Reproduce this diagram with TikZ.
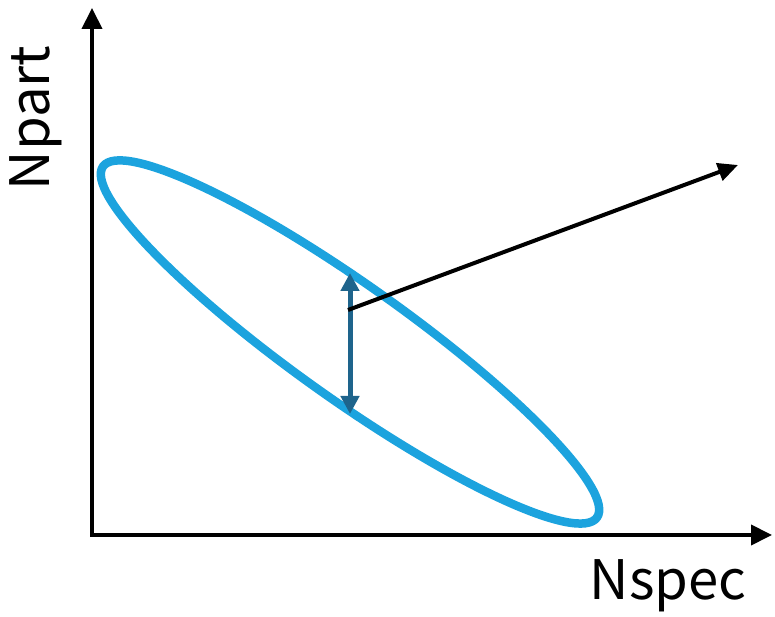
\documentclass[tikz,border=0pt]{standalone}
\usepackage{fontspec}
\setmainfont{Noto Sans CJK JP}
\usepackage{xcolor}
\usepackage{tikz}
\usetikzlibrary{arrows.meta, positioning}
\definecolor{ringblue}{RGB}{28, 163, 222}
\definecolor{spreadblue}{RGB}{30, 100, 140}
\tikzset{
    axis/.style={line width=0.08cm, -{Triangle[length=0.42cm, width=0.4cm]}},
    spread/.style={spreadblue, line width=0.1cm, {Triangle[length=0.36cm, width=0.36cm]}-{Triangle[length=0.36cm, width=0.36cm]}},
    pointer/.style={line width=0.08cm, -{Triangle[length=0.4cm, width=0.36cm]}},
    axislabel/.style={font=\fontsize{31}{36}\selectfont, inner sep=0pt}
}
\begin{document}
\begin{tikzpicture}[x=0.02cm, y=-0.02cm]
    \useasboundingbox (0,0) rectangle (775,617);

    % Axes
    \coordinate (origin) at (92,535);
    \coordinate (ytip) at (92,8);
    \coordinate (xtip) at (772,535);
    \draw[axis] ([xshift=-0.04cm]origin) -- (xtip);
    \draw[axis] ([yshift=-0.04cm]origin) -- (ytip);

    % Axis labels
    \node[axislabel, rotate=90] (npart) at (36,118) {Npart};
    \node[axislabel] (nspec) at (668,586) {Nspec};

    % Correlation ellipse
    \coordinate (centre) at (350,342);
    \draw[ringblue, line width=0.17cm, rotate around={-35.4:(centre)}] (centre) ellipse (303 and 57);

    % Width of the band
    \coordinate (top) at (350,273);
    \coordinate (bottom) at (350,414);
    \draw[spread] (bottom) -- (top);

    % Pointer
    \coordinate (start) at (348,310);
    \coordinate (end) at (738,165);
    \draw[pointer] (start) -- (end);
\end{tikzpicture}
\end{document}
